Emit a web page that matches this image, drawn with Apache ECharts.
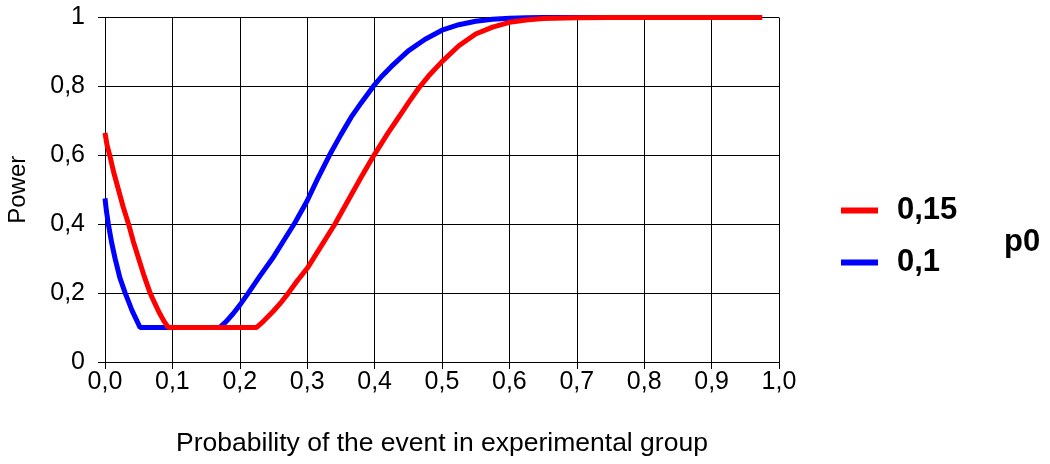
<!DOCTYPE html>
<html>
<head>
<meta charset="utf-8">
<script src="https://cdn.jsdelivr.net/npm/echarts@6/dist/echarts.min.js"></script>
<style>html,body{margin:0;padding:0;background:#fff;}#c{width:1050px;height:464px;}</style>
</head>
<body>
<div id="c"></div>
<script>
// p0 = 0,1 (blue)
const blueX = [0, 0.002, 0.005, 0.01, 0.015, 0.022, 0.03, 0.035, 0.04, 0.046, 0.052, 0.17, 0.18, 0.19, 0.2, 0.2125, 0.23, 0.25, 0.265, 0.282, 0.3, 0.315, 0.333, 0.35, 0.365, 0.38, 0.398, 0.41, 0.425, 0.437, 0.45, 0.475, 0.5, 0.525, 0.55, 0.575, 0.6, 0.625, 0.65, 0.7, 0.8, 0.9, 0.975];
const blueY = [0.475, 0.44, 0.4, 0.345, 0.3, 0.245, 0.2, 0.175, 0.15, 0.125, 0.1, 0.1, 0.118, 0.14, 0.165, 0.2, 0.25, 0.305, 0.352, 0.405, 0.468, 0.53, 0.6, 0.66, 0.71, 0.752, 0.8, 0.828, 0.858, 0.88, 0.903, 0.937, 0.963, 0.979, 0.989, 0.995, 0.998, 0.999, 1, 1, 1, 1, 1];
// p0 = 0,15 (red)
const redX = [0, 0.003, 0.007, 0.013, 0.02, 0.027, 0.035, 0.042, 0.05, 0.058, 0.067, 0.074, 0.08, 0.087, 0.094, 0.2245, 0.235, 0.25, 0.26, 0.272, 0.285, 0.3, 0.32, 0.341, 0.359, 0.38, 0.399, 0.42, 0.437, 0.45, 0.465, 0.48, 0.5, 0.525, 0.55, 0.575, 0.6, 0.625, 0.65, 0.7, 0.75, 0.85, 0.975];
const redY = [0.665, 0.63, 0.6, 0.55, 0.5, 0.45, 0.4, 0.35, 0.3, 0.25, 0.2, 0.17, 0.145, 0.12, 0.1, 0.1, 0.118, 0.148, 0.17, 0.2, 0.235, 0.272, 0.334, 0.4, 0.463, 0.536, 0.6, 0.665, 0.714, 0.752, 0.794, 0.83, 0.872, 0.918, 0.952, 0.972, 0.986, 0.993, 0.997, 0.999, 1, 1, 1];
const seriesNames = ['0,1', '0,15'];
const legendTitle = 'p0';
const xTitle = 'Probability of the event in experimental group';
const yTitle = 'Power';

const zip = (xs, ys) => xs.map((x, i) => [x, ys[i]]);
const FONT = 'Liberation Sans, Arial, sans-serif';

const chart = echarts.init(document.getElementById('c'));
chart.setOption({
  animation: false,
  backgroundColor: '#fff',
  title: {
    text: legendTitle, left: 999, top: 222,
    textStyle: { fontFamily: FONT, fontSize: 31, fontWeight: 'bold', color: '#000' }
  },
  legend: {
    data: [seriesNames[1], seriesNames[0]],
    orient: 'vertical', left: 836, top: 190,
    icon: 'rect', itemWidth: 37, itemHeight: 6, itemGap: 21,
    textStyle: { fontFamily: FONT, fontSize: 31, fontWeight: 'bold', color: '#000', padding: [0, 0, 0, 14] }
  },
  grid: { left: 105, right: 271, top: 17.5, bottom: 102, containLabel: false, outerBoundsMode: 'none' },
  xAxis: {
    type: 'value', min: 0, max: 1, interval: 0.1,
    name: xTitle, nameLocation: 'middle', nameGap: 68,
    nameTextStyle: { fontFamily: FONT, fontSize: 26.5, color: '#000' },
    axisLine: { show: true, onZero: false, lineStyle: { color: '#000', width: 1 } },
    axisTick: { show: true, inside: false, length: 7, lineStyle: { color: '#000' } },
    axisLabel: { margin: 8, fontFamily: FONT, fontSize: 25, color: '#000',
      formatter: v => v.toFixed(1).replace('.', ',') },
    splitLine: { show: true, lineStyle: { color: '#000', width: 1 } }
  },
  yAxis: {
    type: 'value', min: 0, max: 1, interval: 0.2,
    name: yTitle, nameLocation: 'middle', nameGap: 75,
    nameTextStyle: { fontFamily: FONT, fontSize: 24, color: '#000' },
    axisLine: { show: true, lineStyle: { color: '#000', width: 1 } },
    axisTick: { show: true, inside: false, length: 7, lineStyle: { color: '#000' } },
    axisLabel: { margin: 20, fontFamily: FONT, fontSize: 25, color: '#000',
      formatter: v => (Math.abs(v) < 1e-9 ? '0' : Math.abs(v - 1) < 1e-9 ? '1' : v.toFixed(1).replace('.', ',')) },
    splitLine: { show: true, lineStyle: { color: '#000', width: 1 } }
  },
  series: [
    { name: seriesNames[0], type: 'line', data: zip(blueX, blueY), showSymbol: false, smooth: false,
      lineStyle: { color: '#0000ff', width: 5 }, itemStyle: { color: '#0000ff' }, z: 2 },
    { name: seriesNames[1], type: 'line', data: zip(redX, redY), showSymbol: false, smooth: false,
      lineStyle: { color: '#ff0000', width: 5 }, itemStyle: { color: '#ff0000' }, z: 3 }
  ]
});
</script>
</body>
</html>
